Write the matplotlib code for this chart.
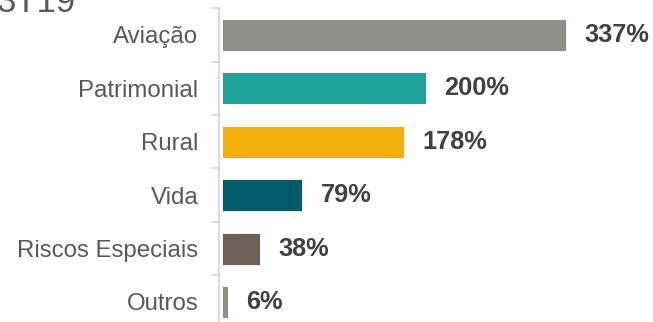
import matplotlib
matplotlib.use('Agg')
import matplotlib.pyplot as plt
import numpy as np

categorias = ['Aviação', 'Patrimonial', 'Rural', 'Vida', 'Riscos Especiais', 'Outros']
valores = [337, 200, 178, 79, 38, 6]
rotulos = ['337%', '200%', '178%', '79%', '38%', '6%']
cores = ['#8f8f89', '#22a39a', '#f2b10a', '#005a6a', '#6b6255', '#8f8f89']
titulo = '3T19'

plt.rcParams['font.family'] = ['Liberation Sans', 'DejaVu Sans']

fig = plt.figure(figsize=(6.53, 3.22), dpi=100)
ax = fig.add_axes([219/653, -6.7/322, 1 - 219/653, (322 - 8.3 + 6.7)/322])

y = np.arange(len(categorias))
ax.barh(y, valores, height=0.6, color=cores, edgecolor='white', linewidth=0.6, left=0)
for yi, v, r in zip(y, valores, rotulos):
    ax.text(v + 18, yi, r, va='center', ha='left', fontsize=18.3, fontweight='bold', color='#404040')

ax.set_ylim(len(categorias) - 0.5, -0.5)
ax.set_xlim(-2.5, 422)
ax.set_yticks(y)
ax.set_yticklabels(categorias, fontsize=17.3, color='#595959')
ax.set_yticks(np.arange(len(categorias)) - 0.5, minor=True)
ax.tick_params(axis='y', which='major', length=0, pad=15)
ax.tick_params(axis='y', which='minor', length=5.5, width=1.1, color='#d9d9d9')
ax.set_xticks([])
for s in ['top', 'right', 'bottom']:
    ax.spines[s].set_visible(False)
ax.spines['left'].set_color('#d9d9d9')
ax.spines['left'].set_linewidth(1.3)

fig.text(-0.005, 1 - 12/322, titulo, fontsize=25, color='#595959', ha='left', va='baseline')

fig.savefig('out.png', dpi=100)
